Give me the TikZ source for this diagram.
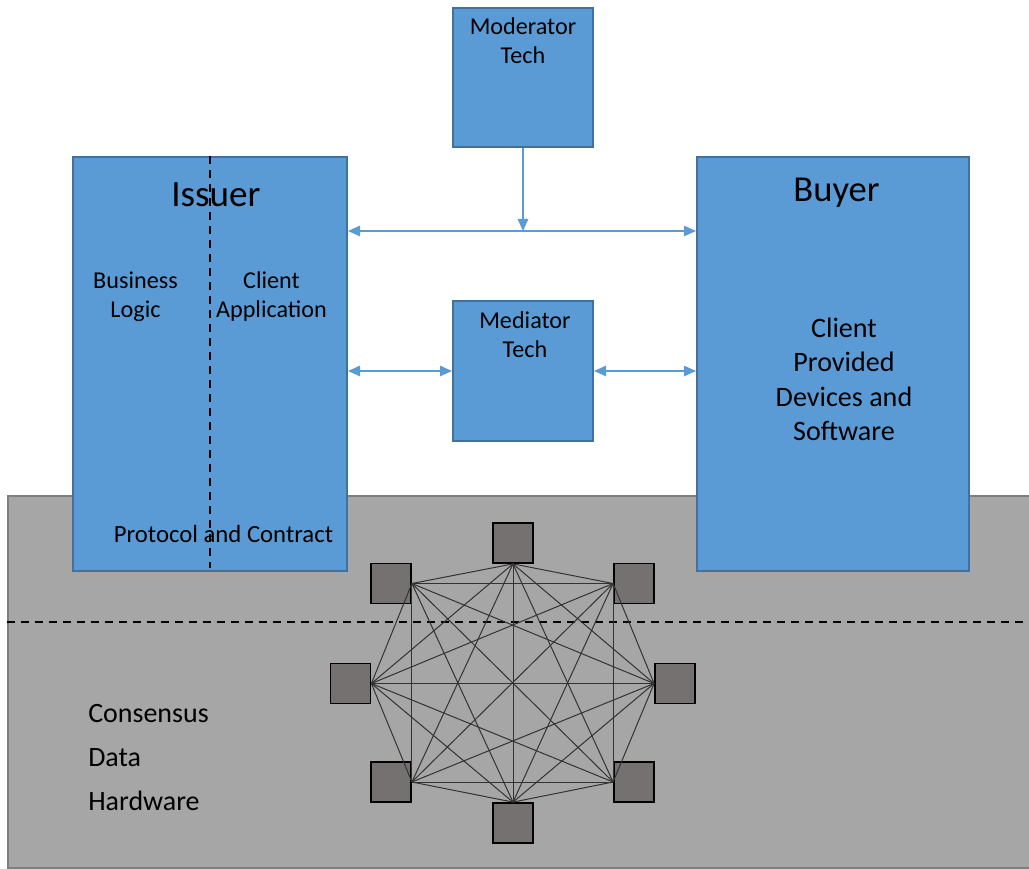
\documentclass[tikz,border=0pt]{standalone}
\usepackage{fontspec}
\setmainfont{Carlito}
\usetikzlibrary{arrows.meta}

\definecolor{boxblue}{HTML}{5B9BD5}
\definecolor{boxedge}{HTML}{41719C}
\definecolor{layergray}{HTML}{A6A6A6}
\definecolor{layeredge}{HTML}{7F7F7F}
\definecolor{peergray}{HTML}{767171}

\begin{document}
\begin{tikzpicture}[x=0.25mm,y=-0.25mm]
    \tikzstyle{block} = [draw=boxedge,fill=boxblue,line width=0.5mm,inner sep=0pt]
    \tikzstyle{layer} = [draw=layeredge,fill=layergray,line width=0.5mm,inner sep=0pt]
    \tikzstyle{peerbox} = [draw=black,fill=peergray,line width=0.45mm,minimum size=10mm,inner sep=0pt]
    \tikzstyle{link} = [draw=black!80,line width=0.25mm]
    \tikzstyle{flow} = [draw=boxblue,line width=0.4mm,>={Triangle[length=3mm,width=2.6mm]}]
    \tikzstyle{split} = [black,line width=0.5mm,dash pattern=on 2mm off 1.5mm]
    \tikzstyle{small} = [font=\fontsize{17.2}{20.6}\selectfont,align=center,inner sep=0pt]
    \useasboundingbox (0,0) rectangle (1029,869);
    % ledger layer and its split line
    \node [layer,minimum width=258mm,minimum height=93mm] (ledger) at (524,682) {};
    \coordinate (cut) at (1024,622);
    \draw [split] (cut -| ledger.west) -- (cut);
    % parties
    \node [block,minimum width=35mm,minimum height=34.75mm] (moderator) at (523,77.5) {};
    \node [block,minimum width=68.5mm,minimum height=103.5mm] (issuer) at (210,364) {};
    \node [block,minimum width=68mm,minimum height=103.5mm] (buyer) at (833,364) {};
    \node [block,minimum width=35mm,minimum height=35mm] (mediator) at (523,371) {};
    \draw [split] (issuer.north) -- ([yshift=1mm]issuer.south);
    \node [small] (modtext) at (523,41) {Moderator\\Tech};
    \node [small] (medtext) at (525,334.5) {Mediator\\Tech};
    \node [small] (logic) at (135.5,297) {Business\\Logic};
    \node [small] (app) at (271.5,297) {Client\\Application};
    \node [font=\fontsize{17.6}{20}\selectfont,anchor=base,inner sep=0pt] (protocol) at (223.5,542.5) {Protocol and Contract};
    \node [font=\fontsize{26.4}{30}\selectfont,anchor=base,inner sep=0pt] (issuername) at (216,207) {Issuer};
    \node [font=\fontsize{26}{30}\selectfont,anchor=base,inner sep=0pt] (buyername) at (836.5,202) {Buyer};
    \node [font=\fontsize{20}{24.5}\selectfont,align=center,inner sep=0pt] (devices) at (844,379.5) {Client\\Provided\\Devices and\\Software};
    \node [font=\fontsize{19.9}{31.3}\selectfont,align=left,anchor=north west,inner sep=0pt] (stack) at (88,704) {Consensus\\Data\\Hardware};
    % messages between the parties
    \coordinate (tee) at (523,231);
    \draw [flow,->] (moderator.south) -- (tee);
    \draw [flow,<->] (issuer.east |- tee) -- (buyer.west |- tee);
    \draw [flow,<->] (issuer.east |- mediator.west) -- (mediator.west);
    \draw [flow,<->] (mediator.east) -- (buyer.west |- mediator.east);
    % peers of the network, each with the point its links meet
    \foreach \n/\x/\y/\a in {1/513/543/south, 2/634/583.5/west, 3/675/683.5/west, 4/634/782/west,
                             5/513/823/north, 6/391/782/east, 7/350.5/683.5/east, 8/391/583.5/east} {
        \node [peerbox] (peer\n) at (\x,\y) {};
        \coordinate (port\n) at (peer\n.\a);
    }
    % every peer talks to every other peer
    \foreach \i in {1,...,7} {
        \pgfmathtruncatemacro{\first}{\i+1}
        \foreach \j in {\first,...,8}
            \draw [link] (port\i) -- (port\j);
    }
\end{tikzpicture}
\end{document}
